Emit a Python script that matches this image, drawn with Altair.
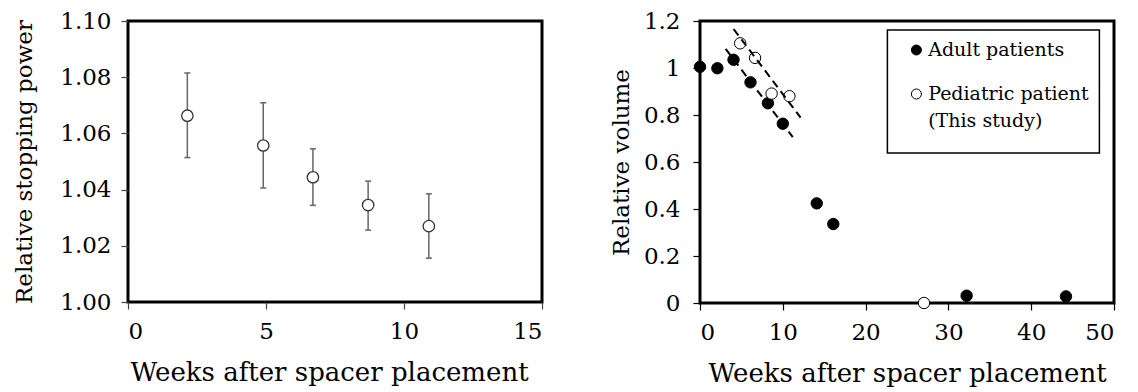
import altair as alt
import pandas as pd

FONT = "DejaVu Serif"

# ---------------- data ----------------
# Left panel: relative stopping power vs weeks
rsp_weeks = [2.15, 4.9, 6.7, 8.7, 10.9]
rsp_mean = [1.0663, 1.0557, 1.0444, 1.0345, 1.0270]
rsp_upper = [1.0815, 1.0709, 1.0545, 1.0430, 1.0385]
rsp_lower = [1.0514, 1.0406, 1.0344, 1.0256, 1.0156]

# Right panel: relative volume vs weeks
adult_weeks = [0.0, 2.1, 4.05, 6.1, 8.2, 10.0, 14.1, 16.1, 32.2, 44.2]
adult_volume = [1.005, 0.999, 1.035, 0.939, 0.850, 0.763, 0.424, 0.336, 0.031, 0.028]
ped_weeks = [4.85, 6.65, 8.65, 10.8, 27.05]
ped_volume = [1.105, 1.043, 0.891, 0.880, 0.0]

# dashed trend lines (end points)
adult_fit_weeks = [3.1, 11.2]
adult_fit_volume = [1.081, 0.706]
ped_fit_weeks = [4.05, 12.15]
ped_fit_volume = [1.166, 0.789]

series_names = ["Adult patients", "Pediatric patient"]

left_x_ticks = [0, 5, 10, 15]
left_y_ticks = [1.00, 1.02, 1.04, 1.06, 1.08, 1.10]
right_x_ticks = [0, 10, 20, 30, 40, 50]
right_y_ticks = [0, 0.2, 0.4, 0.6, 0.8, 1.0, 1.2]

X_TITLE = "Weeks after spacer placement"

# ---------------- left panel ----------------
left_df = pd.DataFrame({"week": rsp_weeks, "rsp": rsp_mean,
                        "hi": rsp_upper, "lo": rsp_lower})

xL_axis = alt.Axis(values=left_x_ticks, title=X_TITLE, format="d",
                   tickColor="#444", labelPadding=11, titlePadding=16,
                   titleX=201)
yL_axis = alt.Axis(values=left_y_ticks, title="Relative stopping power",
                   format=".2f", tickColor="#444", labelPadding=10,
                   titlePadding=23)
xL_scale = alt.Scale(domain=[0, 15], nice=False)
yL_scale = alt.Scale(domain=[1.0, 1.1], nice=False, zero=False)

lbase = alt.Chart(left_df)
xL = alt.X("week:Q", scale=xL_scale, axis=xL_axis)

err = lbase.mark_rule(color="#666", strokeWidth=1.5).encode(
    x=xL,
    y=alt.Y("lo:Q", scale=yL_scale, axis=yL_axis),
    y2="hi:Q",
)
cap_hi = lbase.mark_rule(color="#666", strokeWidth=1.5, xOffset=-3,
                         x2Offset=3).encode(
    x=xL, x2=alt.X2("week:Q"),
    y=alt.Y("hi:Q", scale=yL_scale, axis=yL_axis),
)
cap_lo = lbase.mark_rule(color="#666", strokeWidth=1.5, xOffset=-3,
                         x2Offset=3).encode(
    x=xL, x2=alt.X2("week:Q"),
    y=alt.Y("lo:Q", scale=yL_scale, axis=yL_axis),
)
lpts = lbase.mark_point(shape="circle", filled=True, fill="white",
                        stroke="#333", strokeWidth=1.3, size=130,
                        opacity=1).encode(
    x=xL,
    y=alt.Y("rsp:Q", scale=yL_scale, axis=yL_axis),
)
left = alt.layer(err, cap_hi, cap_lo, lpts).properties(width=414, height=281)

# ---------------- right panel ----------------
pts_df = pd.DataFrame({
    "week": adult_weeks + ped_weeks,
    "vol": adult_volume + ped_volume,
    "group": [series_names[0]] * len(adult_weeks) + [series_names[1]] * len(ped_weeks),
})
fit_df = pd.DataFrame({
    "week": adult_fit_weeks + ped_fit_weeks,
    "vol": adult_fit_volume + ped_fit_volume,
    "group": [series_names[0]] * 2 + [series_names[1]] * 2,
})

xR = alt.X("week:Q", scale=alt.Scale(domain=[0, 50], nice=False),
           axis=alt.Axis(values=right_x_ticks, title=X_TITLE, format="d",
                         tickColor="black", labelPadding=11, titlePadding=16))
yR = alt.Y("vol:Q", scale=alt.Scale(domain=[0, 1.2], nice=False),
           axis=alt.Axis(values=right_y_ticks, title="Relative volume",
                         format=".1~f", tickColor="black", labelPadding=13,
                         titlePadding=10))

legend = alt.Legend(
    title=" ", titleOrient="bottom", titleFontSize=1, titlePadding=10,
    orient="none", legendX=759.4, legendY=9,
    strokeColor="black", fillColor="white", padding=10.5,
    labelFont=FONT, labelFontSize=19, labelColor="black", labelLimit=400,
    symbolType="circle", symbolSize=100, symbolStrokeColor="black",
    symbolStrokeWidth=1, symbolOffset=9, labelOffset=2.3, rowPadding=24,
    labelExpr="datum.label == 'Pediatric patient' ? ['Pediatric patient', '(This study)'] : datum.label",
)

rpts = alt.Chart(pts_df).mark_point(shape="circle", filled=True,
                                    stroke="black", strokeWidth=1,
                                    size=130, opacity=1).encode(
    x=xR, y=yR,
    fill=alt.Fill("group:N", scale=alt.Scale(domain=series_names,
                                             range=["black", "white"]),
                  legend=legend),
)
rlines = alt.Chart(fit_df).mark_line(color="black", strokeDash=[8, 5],
                                     strokeWidth=2).encode(
    x=xR, y=yR, detail="group:N",
)
right = alt.layer(rpts, rlines).properties(width=414, height=282)

chart = (
    alt.hconcat(left, right, spacing=63)
    .properties(padding={"left": 4, "top": 0, "right": 0, "bottom": 0})
    .configure(style={"guide-label": {"lineHeight": 27}})
    .configure_view(stroke="black", strokeWidth=3)
    .configure_axis(
        grid=False, domain=False, tickSize=7, tickWidth=1.2,
        labelFont=FONT, titleFont=FONT, labelFontSize=23,
        labelColor="black", titleColor="black", titleFontWeight="normal",
    )
    .configure_axisX(titleFontSize=26)
    .configure_axisY(titleFontSize=23)
    .configure_legend(strokeWidth=1.5)
)

chart.save("out.html", embed_options={"renderer": "svg", "actions": False})
